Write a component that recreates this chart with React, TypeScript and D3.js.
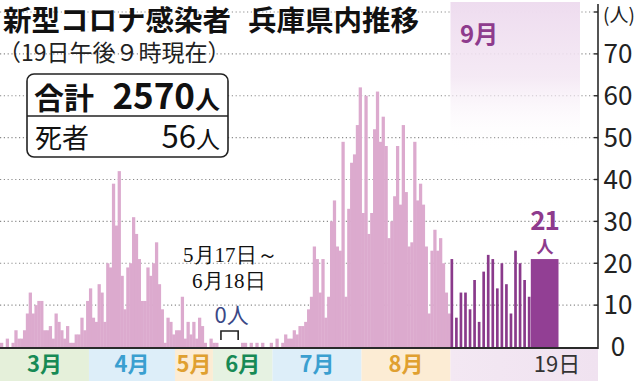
import React from "react";
import * as d3 from "d3";

const W = 639;
const H = 381;

// ---- data (daily new cases, Hyogo) ----
const march = [1, 0, 2, 0, 1, 4, 2, 2, 4, 8, 13, 8, 10, 11, 11, 4, 4, 5, 2, 8, 6, 4, 2, 5, 1, 1, 3, 3, 7, 4, 11];
const april = [14, 7, 6, 15, 13, 6, 20, 19, 39, 29, 42, 17, 9, 19, 20, 31, 27, 21, 11, 11, 19, 17, 20, 25, 15, 9, 1, 7, 6, 3];
const mayFirstHalf = [4, 4, 12, 2, 6, 3, 6, 2, 7, 5, 1, 0, 2, 1, 1, 0]; // May 1-16
const juneLate = [0, 1, 1, 0, 1, 0, 1, 0, 1, 0, 0, 1]; // June 19-30
const july = [0, 2, 0, 1, 3, 2, 2, 4, 3, 5, 5, 6, 9, 12, 24, 21, 13, 21, 7, 12, 30, 35, 24, 23, 49, 12, 33, 44, 46, 53, 62];
const august = [32, 60, 27, 32, 52, 61, 49, 55, 48, 26, 30, 36, 48, 34, 53, 37, 24, 25, 49, 35, 39, 34, 24, 8, 23, 28, 23, 26, 20, 13, 8];
const september = [21, 7, 13, 13, 9, 16, 6, 18, 22, 21, 14, 20, 15, 8, 23, 20, 16, 12]; // Sep 1-18
const latestValue = 21; // Sep 19
const GAP_SLOTS = 6; // May 17 - June 18 (0 cases) compressed

const yTicks = [0, 10, 20, 30, 40, 50, 60, 70];
const gridValues = [10, 20, 30, 40, 50, 60, 70, 80];
const monthLabels = ["3月", "4月", "5月", "6月", "7月", "8月"];
const monthColors = ["#178a55", "#3a9fd0", "#e0a030", "#178a55", "#3a9fd0", "#e0a030"];
const bandColors = ["#e5f0da", "#ddeef9", "#fcecd4", "#e6f2e2", "#ddeef9", "#fcecd4"];
const septLabel = "9月";
const lastDayLabel = "19日";
const unitLabel = "(人)";
const title1 = "新型コロナ感染者";
const title2 = "兵庫県内推移";
const subtitle = "（19日午後９時現在）";
const totalLabel = "合計";
const totalValue = "2570";
const deathsLabel = "死者";
const deathsValue = "56";
const personUnit = "人";
const gapNote1 = "5月17日～";
const gapNote2 = "6月18日";
const zeroNote = "0人";

type Day = { key: string; value: number | null };
const days: Day[] = [];
march.forEach((v, i) => days.push({ key: `3-${i + 1}`, value: v }));
april.forEach((v, i) => days.push({ key: `4-${i + 1}`, value: v }));
mayFirstHalf.forEach((v, i) => days.push({ key: `5-${i + 1}`, value: v }));
for (let i = 0; i < GAP_SLOTS; i++) days.push({ key: `gap${i}`, value: null });
juneLate.forEach((v, i) => days.push({ key: `6-${i + 19}`, value: v }));
july.forEach((v, i) => days.push({ key: `7-${i + 1}`, value: v }));
august.forEach((v, i) => days.push({ key: `8-${i + 1}`, value: v }));

const AXIS_X = 598;
const BASE_Y = 347;
const FONT = "'Noto Sans CJK JP', 'Noto Sans', sans-serif";
const SERIF = "'Liberation Serif', 'DejaVu Serif', serif";

const x = d3.scaleBand<string>().domain(days.map((d) => d.key)).range([0, 450.5]).paddingInner(0);
const xs = d3
  .scaleBand<number>()
  .domain(september.map((_, i) => i + 1))
  .range([450.5, 530.5])
  .paddingInner(0.41)
  .paddingOuter(0);
const xLast = d3.scaleBand<string>().domain(["9-19"]).range([530.8, 558.5]);
const y = d3.scaleLinear().domain([0, 80]).range([BASE_Y, 12]);

export default function App() {
  const bw = x.bandwidth();
  const monthStarts = [x("3-1")!, x("4-1")!, x("5-1")!, x("gap0")! - 8, x("7-1")!, x("8-1")!, 450.5];
  const gapStart = x("gap0")!;
  const gapEnd = x(`gap${GAP_SLOTS - 1}`)! + bw;
  return (
    <div>
      <style>{`body{margin:0;background:#fff}`}</style>
      <svg width={W} height={H} viewBox={`0 0 ${W} ${H}`} style={{ display: "block" }}>
        <defs>
          <linearGradient id="septShade" x1="0" y1="0" x2="0" y2="1">
            <stop offset="0" stopColor="#eedcef" stopOpacity={1} />
            <stop offset="0.5" stopColor="#f3e6f3" stopOpacity={0.85} />
            <stop offset="1" stopColor="#ffffff" stopOpacity={0} />
          </linearGradient>
          <linearGradient id="septBand" x1="0" y1="0" x2="1" y2="0">
            <stop offset="0" stopColor="#f3e8f3" />
            <stop offset="1" stopColor="#f0e2f0" />
          </linearGradient>
        </defs>
        <rect x={0} y={0} width={W} height={H} fill="#fff" />

        {/* gridlines */}
        {gridValues.map((v) => (
          <line
            key={v}
            x1={0}
            x2={AXIS_X}
            y1={y(v)}
            y2={y(v)}
            stroke="#8c8c8c"
            strokeWidth={1.1}
            strokeDasharray="1.2 2.6"
          />
        ))}

        {/* September shading */}
        <rect x={450.5} y={2} width={AXIS_X - 450.5 - 18} height={150} fill="url(#septShade)" />
        <text x={460} y={43} fontFamily={FONT} fontWeight={700} fontSize={24} fill="#8e3b8d">
          {septLabel}
        </text>

        {/* bars Mar - Aug */}
        {days
          .filter((d) => d.value !== null && d.value > 0)
          .map((d) => (
            <rect
              key={d.key}
              x={x(d.key)!}
              y={y(d.value as number)}
              width={bw + 0.4}
              height={BASE_Y - y(d.value as number)}
              fill="#dcaace"
            />
          ))}

        {/* September bars */}
        {september.map((v, i) => (
          <rect
            key={i}
            x={xs(i + 1)!}
            y={y(v)}
            width={xs.bandwidth()}
            height={BASE_Y - y(v)}
            fill="#8a3a8b"
          />
        ))}
        <rect
          x={xLast("9-19")!}
          y={y(latestValue)}
          width={xLast.bandwidth()}
          height={BASE_Y - y(latestValue)}
          fill="#923f94"
        />
        <text textAnchor="middle" fontFamily={FONT} fontWeight={700} fill="#8e3b8d">
          <tspan x={544.5} y={230} fontSize={26} letterSpacing={-1}>
            {String(latestValue)}
          </tspan>
          <tspan x={545} y={253} fontSize={17}>
            {personUnit}
          </tspan>
        </text>

        {/* month bands */}
        {monthLabels.map((m, i) => (
          <g key={m + i}>
            <rect x={monthStarts[i]} y={349} width={monthStarts[i + 1] - monthStarts[i]} height={H - 349} fill={bandColors[i]} />
            <text
              x={(monthStarts[i] + monthStarts[i + 1]) / 2}
              y={372}
              textAnchor="middle"
              fontFamily={FONT}
              fontWeight={700}
              fontSize={22}
              fill={monthColors[i]}
            >
              {m}
            </text>
          </g>
        ))}
        <rect x={450.5} y={349} width={AXIS_X - 450.5} height={H - 349} fill="url(#septBand)" />
        <text x={557} y={372} textAnchor="middle" fontFamily={FONT} fontSize={22} fill="#333">
          {lastDayLabel}
        </text>

        {/* baseline & axis */}
        <line x1={0} x2={AXIS_X} y1={BASE_Y + 1} y2={BASE_Y + 1} stroke="#2a2a2a" strokeWidth={2} />
        <line x1={AXIS_X} x2={AXIS_X} y1={4} y2={BASE_Y + 2} stroke="#2a2a2a" strokeWidth={1.6} />
        {gridValues.map((v) => (
          <line key={"t" + v} x1={AXIS_X - 4} x2={AXIS_X} y1={y(v)} y2={y(v)} stroke="#2a2a2a" strokeWidth={1.4} />
        ))}
        {yTicks.map((v) => (
          <text
            key={"l" + v}
            x={618}
            y={y(v)}
            dy="0.36em"
            textAnchor="middle"
            fontFamily={FONT}
            fontSize={26}
            fill="#222"
          >
            {v}
          </text>
        ))}
        <text x={619} y={22} textAnchor="middle" fontFamily={FONT} fontSize={19} fill="#222">
          {unitLabel}
        </text>

        {/* gap annotation */}
        <path
          d={`M${gapStart},${BASE_Y - 7} V${BASE_Y - 16} H${gapEnd} V${BASE_Y - 7}`}
          fill="none"
          stroke="#222"
          strokeWidth={1.6}
        />
        <text x={(gapStart + gapEnd) / 2 + 2} y={323} textAnchor="middle" fontFamily={FONT} fontSize={22} fill="#3b4886">
          {zeroNote}
        </text>
        <text fontFamily={SERIF} fontSize={21} fill="#111">
          <tspan x={183} y={262}>{gapNote1}</tspan>
          <tspan x={192} y={288}>{gapNote2}</tspan>
        </text>

        {/* title + subtitle */}
        <text fontFamily={FONT} fill="#111">
          <tspan x={3} y={31} fontWeight={700} fontSize={28.5}>
            {title1}
          </tspan>
          <tspan x={248} y={31} fontWeight={700} fontSize={28.5}>
            {title2}
          </tspan>
          <tspan x={-2} y={61} fontSize={23} fill="#222">
            {subtitle}
          </tspan>
        </text>

        {/* totals box */}
        <rect x={27} y={74} width={201} height={83} rx={7} fill="#fff" stroke="#222" strokeWidth={1.6} />
        <line x1={27} x2={228} y1={116} y2={116} stroke="#222" strokeWidth={1.4} />
        <text x={34} y={109} fontFamily={FONT} fontWeight={700} fontSize={30} fill="#111">
          {totalLabel}
        </text>
        <text x={220} y={109} textAnchor="end" fontFamily={FONT} fontWeight={700} fill="#111">
          <tspan fontSize={35}>{totalValue}</tspan>
          <tspan fontSize={25}>{personUnit}</tspan>
        </text>
        <text x={35} y={148} fontFamily={FONT} fontSize={27} fill="#111">
          {deathsLabel}
        </text>
        <text x={220} y={148} textAnchor="end" fontFamily={FONT} fill="#111">
          <tspan fontSize={31}>{deathsValue}</tspan>
          <tspan fontSize={24}>{personUnit}</tspan>
        </text>
      </svg>
    </div>
  );
}
